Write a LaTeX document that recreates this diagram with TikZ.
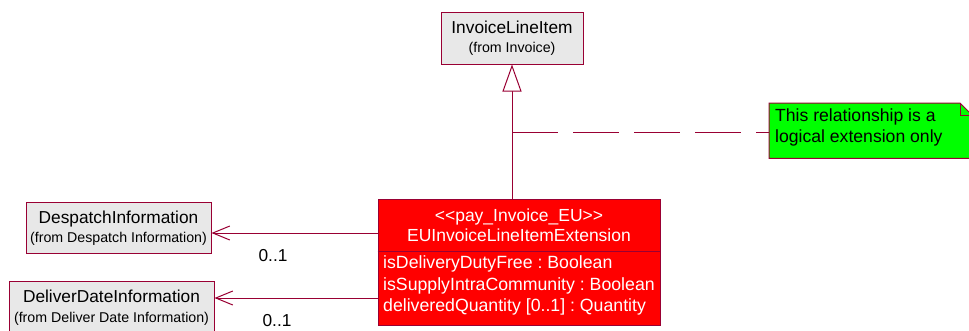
\documentclass[tikz,border=0pt]{standalone}
\usepackage{fontspec}
\setmainfont{Liberation Sans}
\usetikzlibrary{arrows.meta}
\definecolor{umlred}{RGB}{153,0,51}
\definecolor{boxgray}{RGB}{232,232,232}
\definecolor{notegreen}{RGB}{0,255,0}
\definecolor{clsred}{RGB}{255,0,0}
\frenchspacing
\begin{document}
\begin{tikzpicture}[x=1pt,y=-1pt,
  umlline/.style={draw=umlred, line width=1pt},
  clsbox/.style={draw=umlred, fill=boxgray, line width=1pt, inner sep=0pt, rectangle},
  bigtxt/.style={font=\fontsize{17.3}{20}\selectfont, inner sep=0pt, anchor=base},
  redtxt/.style={font=\fontsize{17.5}{20}\selectfont, inner sep=0pt, anchor=base, text=white},
  attrtxt/.style={font=\fontsize{17.7}{20}\selectfont, inner sep=0pt, anchor=base west, text=white},
  notetxt/.style={font=\fontsize{17.6}{20}\selectfont, inner sep=0pt, anchor=base west},
  smalltxt/.style={font=\fontsize{14.2}{16}\selectfont, inner sep=0pt, anchor=base},
  assoc/.style={umlline, -{Straight Barb[length=17pt,width=14pt,line width=1pt]}},
  gen/.style={umlline, -{Triangle[open,length=27pt,width=19pt,fill=white,line width=1pt]}}]
\useasboundingbox (0,0) rectangle (969,330);

% InvoiceLineItem
\node[clsbox, minimum width=142pt, minimum height=52pt] (ili) at (512,38) {};
\node[bigtxt] (iliname) at (512,33) {InvoiceLineItem};
\node[smalltxt] (ilifrom) at (512,52) {(from Invoice)};

% DespatchInformation
\node[clsbox, minimum width=185pt, minimum height=51pt] (desp) at (118.5,227.5) {};
\node[bigtxt] (despname) at (118.5,223) {DespatchInformation};
\node[smalltxt] (despfrom) at (118.5,242.5) {(from Despatch Information)};

% DeliverDateInformation
\node[clsbox, minimum width=205pt, minimum height=54pt] (deliv) at (111.5,308) {};
\node[bigtxt] (delivname) at (111.5,302) {DeliverDateInformation};
\node[smalltxt] (delivfrom) at (111.5,322) {(from Deliver Date Information)};

% EU extension class
\node[draw=umlred, fill=clsred, line width=1pt, minimum width=282pt, minimum height=126pt, inner sep=0pt] (eu) at (519,262) {};
\draw[umlline] (eu.west |- 0,251) -- (eu.east |- 0,251);
\node[redtxt] (eustereo) at (519,221.7) {<\kern0pt<pay\_Invoice\_EU>\kern0pt>};
\node[redtxt] (euname) at (519,241.7) {EUInvoiceLineItemExtension};
\node[attrtxt] (attr1) at (383,268.7) {isDeliveryDutyFree : Boolean};
\node[attrtxt] (attr2) at (383,290.3) {isSupplyIntraCommunity : Boolean};
\node[attrtxt] (attr3) at (383,311.7) {deliveredQuantity [0..1] : Quantity};

% Note
\node[anchor=north west, minimum width=203pt, minimum height=55pt, inner sep=0pt] (note) at (769,103) {};
\draw[umlline, fill=notegreen] (note.north west) -- ++(191,0) -- ++(12,12) -- (note.south east) -- (note.south west) -- cycle;
\draw[umlline] ([xshift=-12pt]note.north east) -- ++(0,12) -- ++(12,0);
\node[notetxt] (nt1) at (775,121.5) {This relationship is a};
\node[notetxt] (nt2) at (775,142.5) {logical extension only};

% Connectors
\draw[gen] (ili.south |- eu.north) -- (ili.south);
\draw[umlline, dash pattern=on 46pt off 15pt] (ili.south |- 0,132) -- (note.west |- 0,132);
\draw[assoc] (eu.west |- 0,233) -- (desp.east |- 0,233);
\draw[assoc] (eu.west |- 0,298) -- (deliv.east |- 0,298);

% Multiplicities
\node[bigtxt] (m1) at (273,261) {0..1};
\node[bigtxt] (m2) at (277,326) {0..1};
\end{tikzpicture}
\end{document}
